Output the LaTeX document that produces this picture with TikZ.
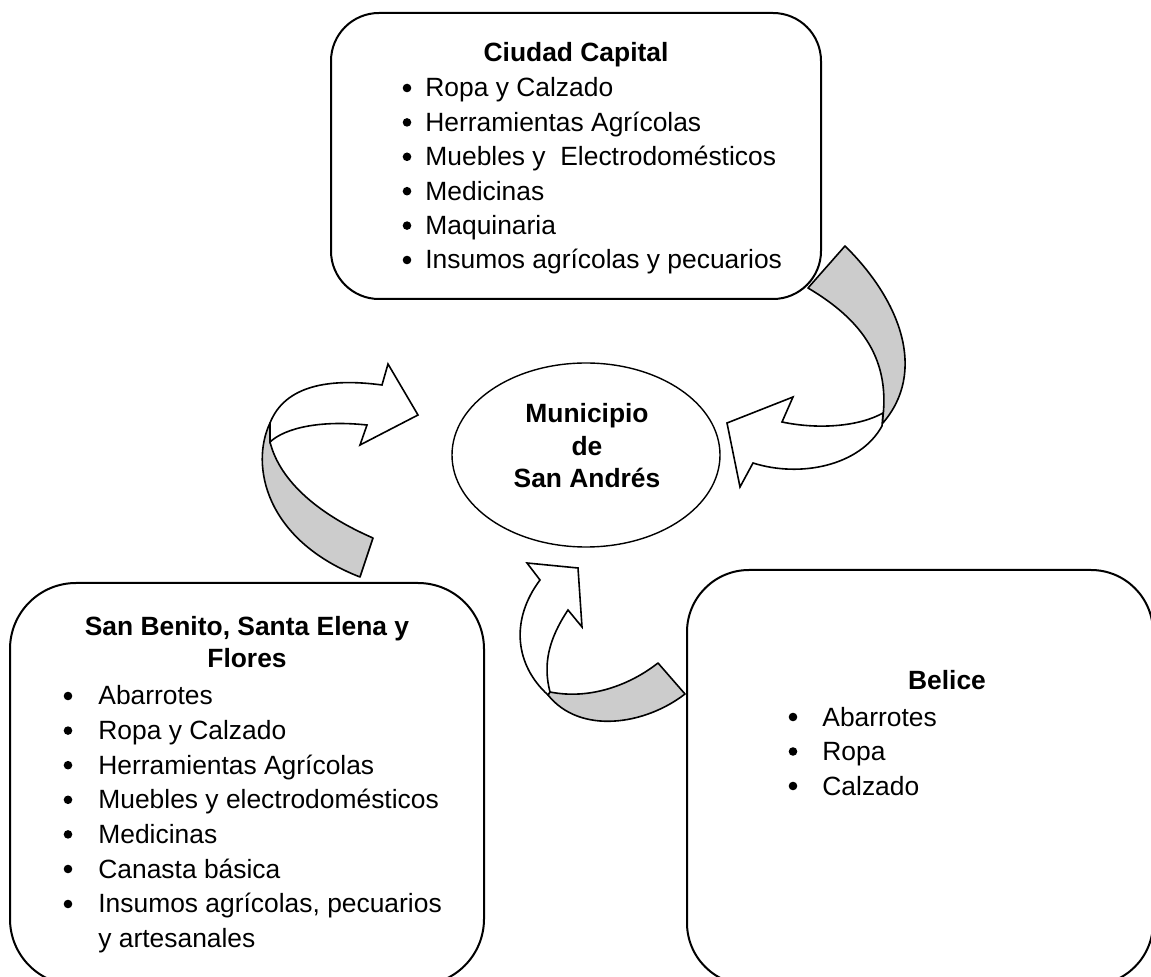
\documentclass[tikz,border=0pt]{standalone}
\usepackage{fontspec}
\setmainfont{Liberation Sans}
\usetikzlibrary{shapes.geometric}
\definecolor{cintagris}{HTML}{CCCCCC}
\tikzset{
    caja/.style={draw, line width=1pt, rounded corners=#1, inner sep=0pt, outer sep=0pt},
    texto/.style={font=\fontsize{13.2}{17.2}\selectfont, inner sep=0pt},
    titulo/.style={texto, font=\fontsize{13.2}{16.4}\selectfont\bfseries, align=center, anchor=base},
    item/.style={texto, anchor=base west, align=left},
    punto/.style={circle, fill, inner sep=0pt, minimum size=4.3pt},
    cinta/.style={draw, fill=cintagris, line width=0.8pt, line join=round},
    flecha/.style={draw, fill=white, line width=0.8pt, line join=miter}
}
\begin{document}
\begin{tikzpicture}[x=0.5pt, y=-0.5pt]
    \useasboundingbox (0,0) rectangle (1151,977);

    %cajas
    \node[caja=24pt, minimum width=245pt, minimum height=143pt] (capital) at (576,156) {};
    \node[caja=33pt, minimum width=237pt, minimum height=201pt] (sanbenito) at (247,784) {};
    \node[caja=31pt, minimum width=233pt, minimum height=207.5pt] (belice) at (920,777.5) {};
    \node[draw, ellipse, line width=0.7pt, minimum width=134pt, minimum height=92pt] (municipio) at (586,455) {};

    %Ciudad Capital
    \node[titulo] (capitaltit) at (576,62) {Ciudad Capital};
    \foreach \txt [count=\i] in {Ropa y Calzado, Herramientas Agrícolas, Muebles y \ Electrodomésticos, Medicinas, Maquinaria, Insumos agrícolas y pecuarios}{
        \node[punto] (capitalb\i) at (407,{88+34.4*(\i-1)}) {};
        \node[item] (capital\i) at (425,{97+34.4*(\i-1)}) {\txt};
    }

    %Municipio (base = ultima linea)
    \node[titulo] (municipiotit) at (587,488) {Municipio\\de\\San Andrés};

    %San Benito, Santa Elena y Flores
    \node[titulo] (sanbenitotit) at (247,668) {San Benito, Santa Elena y\\Flores};
    \foreach \txt [count=\i] in {Abarrotes, Ropa y Calzado, Herramientas Agrícolas, Muebles y electrodomésticos, Medicinas, Canasta básica}{
        \node[punto] (sanbenitob\i) at (68,{696+34.6*(\i-1)}) {};
        \node[item] (sanbenito\i) at (98,{705+34.6*(\i-1)}) {\txt};
    }
    \node[punto] (sanbenitob7) at (68,904) {};
    \node[item] (sanbenito7) at (98,947) {Insumos agrícolas, pecuarios\\y artesanales};

    %Belice
    \node[titulo] (belicetit) at (947,690) {Belice};
    \foreach \txt [count=\i] in {Abarrotes, Ropa, Calzado}{
        \node[punto] (beliceb\i) at (793,{717+34.5*(\i-1)}) {};
        \node[item] (belice\i) at (822,{726+34.5*(\i-1)}) {\txt};
    }

    %flecha Ciudad Capital -> Municipio
    \draw[cinta] (808,288) -- (845,246) .. controls (900,300) and (928,372) .. (882,424)
        .. controls (892,360) and (862,320) .. (808,288) -- cycle;
    \draw[flecha] (883,413) .. controls (860,426) and (820,430) .. (782,422) -- (793,397) -- (727,423)
        -- (740,487) -- (753,463) .. controls (800,478) and (860,466) .. (882,426) -- cycle;

    %flecha San Benito -> Municipio
    \draw[cinta] (360,577) -- (373,538) .. controls (320,515) and (280,482) .. (270,442)
        -- (270,423) .. controls (250,465) and (265,540) .. (360,577) -- cycle;
    \draw[flecha] (270,423) .. controls (285,385) and (330,378) .. (382,385) -- (388,364) -- (418,415)
        -- (360,445) -- (367,425) .. controls (320,420) and (285,428) .. (270,442) -- cycle;

    %flecha Belice -> Municipio
    \draw[cinta] (550,692) .. controls (590,700) and (630,685) .. (658,663) -- (685,694)
        .. controls (645,725) and (580,735) .. (548,695) -- cycle;
    \draw[flecha] (548,695) .. controls (515,665) and (510,620) .. (540,580) -- (527,563) -- (578,568)
        -- (582,627) -- (568,610) .. controls (548,640) and (543,665) .. (550,692) -- cycle;
\end{tikzpicture}
\end{document}
